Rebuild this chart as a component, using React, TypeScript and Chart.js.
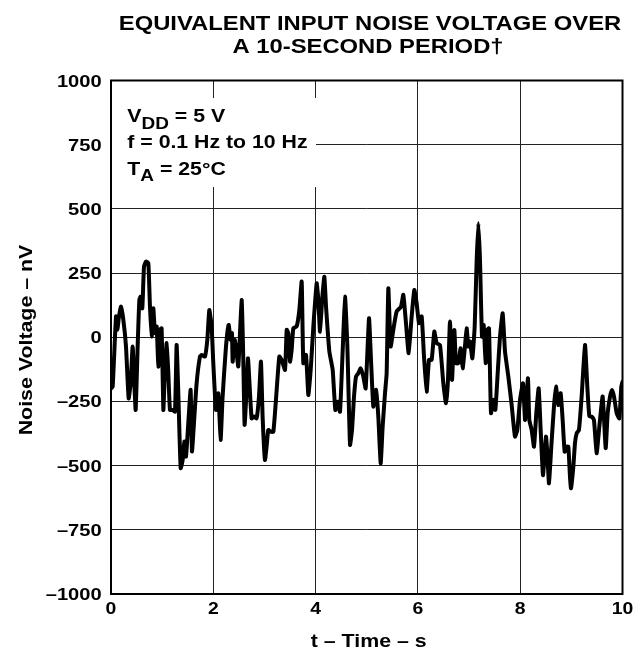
import React, { useEffect, useRef } from "react";
import { Chart, registerables } from "chart.js";

Chart.register(...registerables);

const titleLines = ["EQUIVALENT INPUT NOISE VOLTAGE OVER", "A 10-SECOND PERIOD\u2020"];
const xAxisTitle = "t \u2013 Time \u2013 s";
const yAxisTitle = "Noise Voltage \u2013 nV";
const xTicks = [0, 2, 4, 6, 8, 10];
const yTicks = [-1000, -750, -500, -250, 0, 250, 500, 750, 1000];

const timeS = [
  0, 0.033, 0.098, 0.124, 0.156, 0.195, 0.241, 0.293, 0.345, 0.384, 0.423, 0.456, 0.482, 0.521, 0.554, 0.58, 0.612,
  0.645, 0.684, 0.73, 0.762, 0.795, 0.827, 0.86, 0.893, 0.925, 0.958, 0.99, 1.023, 1.055, 1.088, 1.121, 1.153, 1.205,
  1.251, 1.283, 1.316, 1.362, 1.401, 1.433, 1.466, 1.511, 1.557, 1.583, 1.622, 1.674, 1.739, 1.772, 1.837, 1.883,
  1.922, 1.967, 2.0, 2.052, 2.098, 2.143, 2.182, 2.248, 2.3, 2.339, 2.365, 2.378, 2.417, 2.443, 2.489, 2.554, 2.586,
  2.612, 2.651, 2.678, 2.704, 2.749, 2.795, 2.847, 2.893, 2.932, 2.964, 3.01, 3.042, 3.075, 3.121, 3.174, 3.239,
  3.291, 3.337, 3.402, 3.435, 3.467, 3.5, 3.532, 3.565, 3.63, 3.682, 3.728, 3.76, 3.813, 3.858, 3.904, 3.956, 4.021,
  4.054, 4.086, 4.132, 4.171, 4.204, 4.269, 4.334, 4.386, 4.432, 4.477, 4.53, 4.575, 4.621, 4.673, 4.712, 4.751,
  4.79, 4.836, 4.881, 4.933, 4.979, 5.044, 5.083, 5.129, 5.181, 5.226, 5.272, 5.311, 5.357, 5.389, 5.422, 5.467,
  5.519, 5.584, 5.669, 5.715, 5.767, 5.819, 5.878, 5.93, 5.976, 6.021, 6.074, 6.119, 6.171, 6.217, 6.269, 6.321,
  6.367, 6.432, 6.497, 6.549, 6.588, 6.627, 6.667, 6.712, 6.745, 6.79, 6.836, 6.875, 6.914, 6.953, 6.986, 7.019,
  7.064, 7.11, 7.149, 7.182, 7.214, 7.253, 7.286, 7.325, 7.357, 7.39, 7.429, 7.475, 7.514, 7.56, 7.605, 7.657,
  7.703, 7.768, 7.833, 7.898, 7.944, 7.996, 8.055, 8.094, 8.113, 8.152, 8.178, 8.224, 8.27, 8.315, 8.361, 8.4,
  8.445, 8.471, 8.504, 8.53, 8.563, 8.608, 8.66, 8.699, 8.745, 8.791, 8.83, 8.869, 8.908, 8.941, 8.973, 8.993,
  9.039, 9.071, 9.104, 9.149, 9.201, 9.267, 9.312, 9.351, 9.397, 9.442, 9.494, 9.547, 9.612, 9.671, 9.71, 9.756,
  9.795, 9.834, 9.886, 9.938, 9.977, 10.0,
];

const noiseNV = [
  -200, -192, 81, 29, 81, 119, 68, -36, -238, -179, -36, -179, -283, -36, 145, 158, 113,
  275, 295, 288, 119, 3, 113, 16, 42, -114, 29, 35, -283, -127, -23, -140, -283, -283,
  -290, -30, -218, -510, -478, -406, -465, -335, -205, -445, -335, -179, -75, -69, -75, -10,
  106, 42, -101, -283, -218, -400, -231, -36, 48, -10, 16, -95, -10, -36, -114, 145, -82,
  -341, -205, -82, -166, -316, -309, -316, -231, -95, -309, -478, -426, -361, -368, -368, -205,
  -75, -88, -127, 29, 16, -95, -49, 35, 42, 106, 217, -101, -69, -225, -127, 42, 210,
  145, 22, 158, 236, 119, -56, -127, -283, -251, -290, -49, 158, -36, -419, -361, -231,
  -153, -140, -121, -153, -199, 74, -88, -270, -205, -309, -491, -348, -218, -140, 191, -36,
  29, 100, 119, 165, 55, -62, 81, 184, 132, 55, 81, -75, -212, -88, -88, 22,
  -23, -30, -179, -257, -166, 61, -166, 28, -101, -101, -43, -121, -49, 35, -36, -17,
  -82, 41, 301, 444, 301, 2, 48, -101, 28, 35, -296, -244, -283, -140, 2, 93,
  -56, -153, -264, -387, -361, -244, -179, -322, -270, -160, -322, -361, -426, -296, -199, -361,
  -537, -478, -387, -452, -569, -426, -270, -192, -264, -218, -322, -446, -426, -426, -543, -588,
  -504, -413, -374, -361, -231, -30, -192, -307, -309, -322, -452, -348, -231, -432, -296, -231,
  -205, -231, -296, -316, -192, -173,
];

const FONT = "'Liberation Sans', Arial, Helvetica, sans-serif";

// draws horizontally-widened bold text
function wideText(ctx: any, text: string, x: number, y: number, size: number, sx: number, align: "left" | "center" | "right") {
  ctx.save();
  ctx.font = `bold ${size}px ${FONT}`;
  ctx.textBaseline = "alphabetic";
  ctx.textAlign = "left";
  const w = ctx.measureText(text).width * sx;
  let left = x;
  if (align === "center") left = x - w / 2;
  if (align === "right") left = x - w;
  ctx.translate(left, y);
  ctx.scale(sx, 1);
  ctx.fillText(text, 0, 0);
  ctx.restore();
  return w;
}

const textPlugin = {
  id: "textPlugin",
  beforeDatasetsDraw(chart: any) {
    const { ctx, chartArea } = chart;
    ctx.save();
    ctx.fillStyle = "#ffffff";
    ctx.fillRect(chartArea.left + 1, 98, 316 - chartArea.left - 1, 89);
    ctx.restore();
  },
  afterDraw(chart: any) {
    const { ctx, chartArea } = chart;
    const xs = chart.scales.x;
    const ys = chart.scales.y;
    ctx.save();
    ctx.fillStyle = "#000";
    ctx.strokeStyle = "#000";
    ctx.lineWidth = 2;
    ctx.strokeRect(chartArea.left, chartArea.top, chartArea.right - chartArea.left, chartArea.bottom - chartArea.top);

    // title
    wideText(ctx, titleLines[0], 370, 30, 20, 1.19, "center");
    wideText(ctx, titleLines[1], 368, 53, 20, 1.19, "center");

    // tick labels
    for (const v of yTicks) {
      const label = v < 0 ? "\u2013" + Math.abs(v) : String(v);
      wideText(ctx, label, 101.7, ys.getPixelForValue(v) + 6, 17, 1.185, "right");
    }
    for (const v of xTicks) {
      wideText(ctx, String(v), xs.getPixelForValue(v), 614, 17, 1.14, "center");
    }

    // axis titles
    wideText(ctx, xAxisTitle, 368.7, 647, 18.5, 1.154, "center");
    ctx.save();
    ctx.translate(32, 340);
    ctx.rotate(-Math.PI / 2);
    wideText(ctx, yAxisTitle, 0, 0, 18.5, 1.154, "center");
    ctx.restore();

    // conditions
    const x0 = 127.3;
    const big = 18.5;
    const sub = 16.5;
    const sxc = 1.15;
    let x = x0;
    x += wideText(ctx, "V", x, 122, big, sxc, "left");
    x += wideText(ctx, "DD", x, 128.5, sub, sxc, "left");
    wideText(ctx, " = 5 V", x, 122, big, sxc, "left");
    wideText(ctx, "f = 0.1 Hz to 10 Hz", x0, 148, big, sxc, "left");
    x = x0;
    x += wideText(ctx, "T", x, 174.5, big, sxc, "left");
    x += wideText(ctx, "A", x, 181, sub, sxc, "left");
    wideText(ctx, " = 25\u00B0C", x, 174.5, big, sxc, "left");
    ctx.restore();
  },
};

export default function App() {
  const ref = useRef<HTMLCanvasElement>(null);
  useEffect(() => {
    const points = timeS.map((t, i) => ({ x: t, y: noiseNV[i] }));
    const chart = new Chart(ref.current!, {
      type: "line",
      data: {
        datasets: [
          {
            data: points,
            borderColor: "#000",
            borderWidth: 4,
            pointRadius: 0,
            tension: 0.15,
            borderJoinStyle: "round",
            borderCapStyle: "round",
            fill: false,
          },
        ],
      },
      options: {
        animation: false,
        responsive: false,
        maintainAspectRatio: false,
        layout: { padding: { top: 80.5, right: 14.5, left: 0, bottom: 0 } },
        plugins: { legend: { display: false }, tooltip: { enabled: false }, title: { display: false } },
        scales: {
          x: {
            type: "linear",
            min: 0,
            max: 10,
            afterBuildTicks: (s: any) => {
              s.ticks = xTicks.map((v) => ({ value: v }));
            },
            afterFit: (s: any) => {
              s.height = 57;
            },
            grid: { color: "#222", lineWidth: 1, drawTicks: false },
            border: { display: false },
            ticks: { display: false },
          },
          y: {
            type: "linear",
            min: -1000,
            max: 1000,
            afterBuildTicks: (s: any) => {
              s.ticks = yTicks.map((v) => ({ value: v }));
            },
            afterFit: (s: any) => {
              s.width = 111;
            },
            grid: { color: "#222", lineWidth: 1, drawTicks: false },
            border: { display: false },
            ticks: { display: false },
          },
        },
      } as any,
      plugins: [textPlugin],
    });
    return () => chart.destroy();
  }, []);
  return (
    <div style={{ position: "fixed", left: 0, top: 0, width: 637, height: 651, background: "#fff" }}>
      <canvas ref={ref} width={637} height={651} style={{ width: 637, height: 651, display: "block" }} />
    </div>
  );
}
